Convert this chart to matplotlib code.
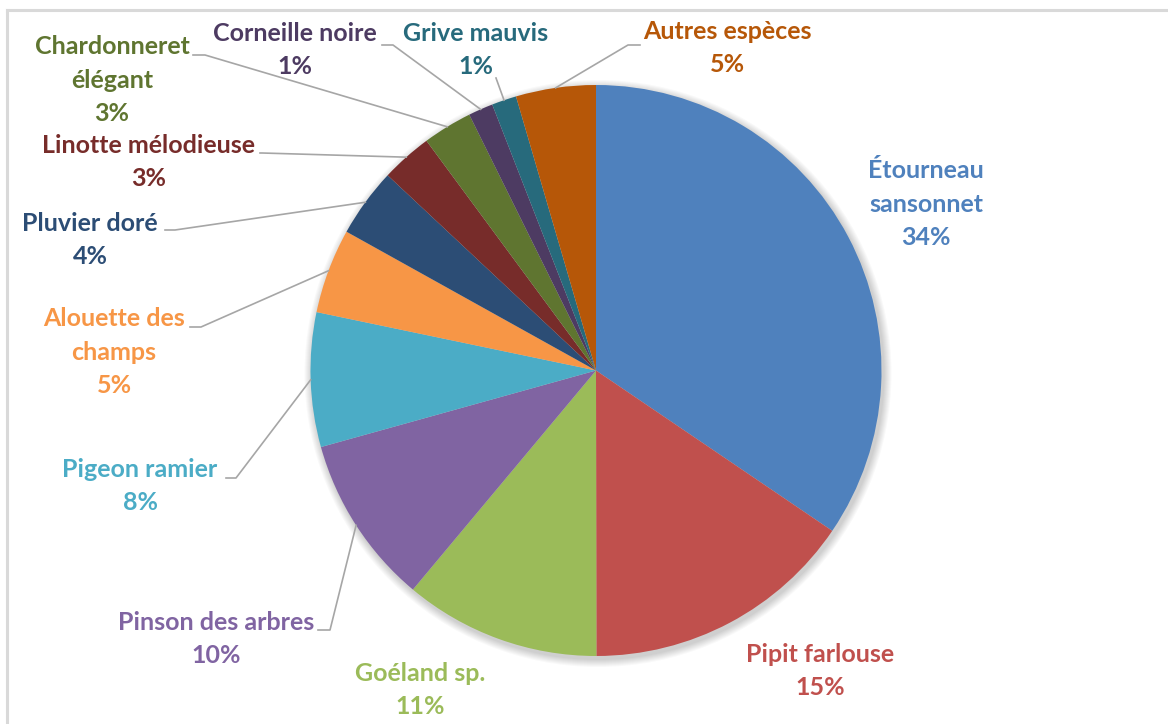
import matplotlib.pyplot as plt
from matplotlib.patches import Circle
import numpy as np

# espèces et part des observations (%)
species = ["Étourneau\nsansonnet", "Pipit farlouse", "Goéland sp.", "Pinson des arbres",
           "Pigeon ramier", "Alouette des\nchamps", "Pluvier doré", "Linotte mélodieuse",
           "Chardonneret\nélégant", "Corneille noire", "Grive mauvis", "Autres espèces"]
shares = [34.49, 15.49, 11.1, 9.6, 7.6, 4.8, 3.9, 2.9, 2.8, 1.4, 1.4, 4.52]

colors = ["#4F81BD", "#C0504D", "#9BBB59", "#8064A2", "#4BACC6", "#F79646",
          "#2C4D75", "#772C2A", "#5F7530", "#4D3B62", "#276A7C", "#B65708"]

W, H = 1168, 724
cx, cy, r = 596, 370.5, 285.5


def py(y):
    # pixel row -> data y
    return H - y


# label centre (px) and optional leader (start, elbow) in px
label_pos = [(926, 204), (820, 671), (420, 690), (216, 639), (140, 486), (114, 352),
             (90, 240), (149, 162), (112, 80), (295, 50), (476, 50), (727, 48)]
leaders = {3: ((318, 630), (330, 630)),
           4: ((226, 478), (236, 478)),
           5: ((190, 327), (201, 327)),
           6: ((165, 230), (175, 230)),
           7: ((260, 153), (262, 153)),
           8: ((193, 55), (205, 55)),
           9: ((382, 45), (393, 45)),
           10: ((496, 78), (496, 78)),
           11: ((640, 45), (628, 45))}

fig = plt.figure(figsize=(W / 100, H / 100), dpi=100)
ax = fig.add_axes([0, 0, 1, 1])

# soft shadow behind the pie
for i in range(8):
    ax.add_patch(Circle((cx + 2, py(cy) - 3), r + 1 + i * 1.0, color="#000000",
                        alpha=0.025, lw=0, zorder=0))

wedges, _ = ax.pie(shares, colors=colors, startangle=90, counterclock=False,
                   center=(cx, py(cy)), radius=r,
                   wedgeprops=dict(linewidth=0, zorder=2))

total = sum(shares)
for i, (name, v) in enumerate(zip(species, shares)):
    lx, ly = label_pos[i]
    ax.text(lx, py(ly), f"{name}\n{round(v / total * 100)}%", ha="center", va="center",
            multialignment="center", fontsize=18, fontweight="bold", color=colors[i],
            family="Lato", linespacing=1.53, zorder=4)
    if i in leaders:
        w = wedges[i]
        ang = np.deg2rad((w.theta1 + w.theta2) / 2)
        ex, ey = cx + r * np.cos(ang), py(cy) + r * np.sin(ang)
        (sx, sy), (bx, by) = leaders[i]
        ax.plot([sx, bx, ex], [py(sy), py(by), ey], color="#A6A6A6", lw=1.2, zorder=3)

# chart frame (top and left edges visible)
ax.plot([7, W], [py(9.5), py(9.5)], color="#D9D9D9", lw=2.2, zorder=1)
ax.plot([7, 7], [py(9.5), 0], color="#D9D9D9", lw=2.2, zorder=1)

ax.set_xlim(0, W)
ax.set_ylim(0, H)
ax.set_aspect("equal")
ax.axis("off")
fig.savefig("out.png", dpi=100, facecolor="white")
